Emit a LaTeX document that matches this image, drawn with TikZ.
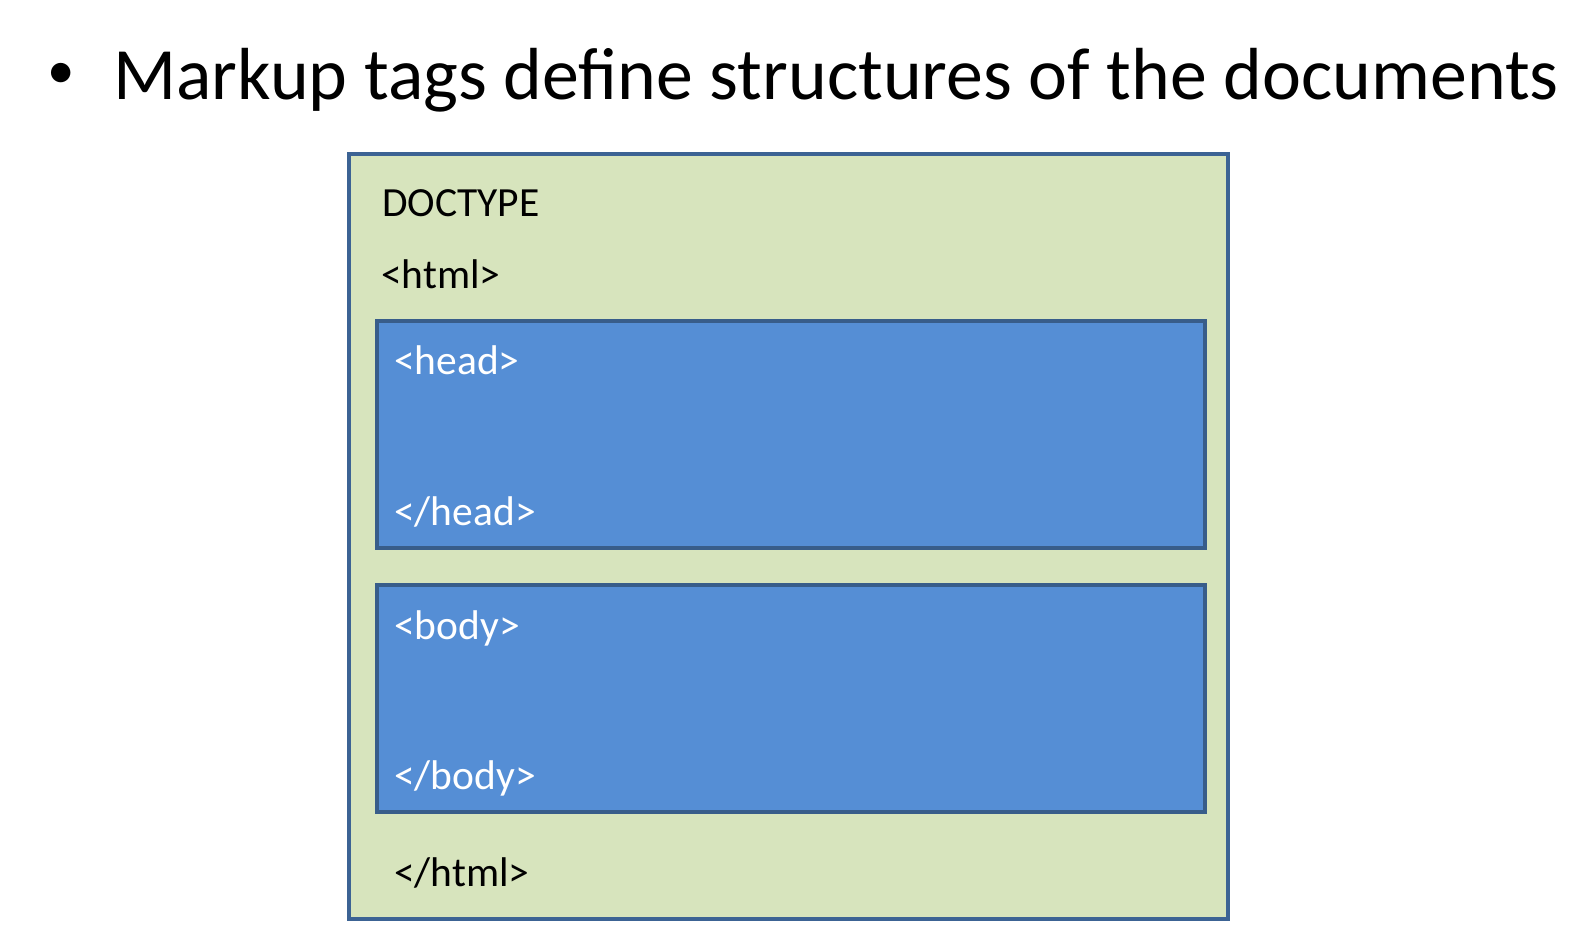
\documentclass[tikz,border=0pt]{standalone}
\usepackage{fontspec}
\setmainfont{Carlito}
\definecolor{outerfill}{HTML}{D7E4BD}
\definecolor{outerdraw}{HTML}{3C6394}
\definecolor{innerfill}{HTML}{558ED5}
\definecolor{innerdraw}{HTML}{385D8A}
\tikzset{
  outerbox/.style={fill=outerfill, draw=outerdraw, line width=3.5pt},
  innerbox/.style={fill=innerfill, draw=innerdraw, line width=4pt},
  lbl/.style={anchor=base west, inner sep=0pt, font=\fontsize{41.5}{41.5}\selectfont},
  wlbl/.style={lbl, text=white},
  title/.style={anchor=base west, inner sep=0pt, font=\fontsize{73.8}{73.8}\selectfont}
}
\begin{document}
\begin{tikzpicture}[x=1pt,y=-1pt]
\useasboundingbox (0,0) rectangle (1577,944);
\node[anchor=base, inner sep=0pt, font=\fontsize{55}{55}\selectfont] (bullet) at (61,89) {•};
\node[title] (heading) at (113,100) {Markup tags define structures of the documents};
\draw[outerbox] (349,154) rectangle (1228,919);
\draw[innerbox] (377,321) rectangle (1205,548);
\draw[innerbox] (377,585) rectangle (1205,812);
\node[lbl] (doctype) at (382,217) {DOCTYPE};
\node[lbl] (htmlopen) at (381,288) {<html>};
\node[wlbl] (headopen) at (394,374) {<head>};
\node[wlbl] (headclose) at (394,525) {</head>};
\node[wlbl] (bodyopen) at (394,639) {<body>};
\node[wlbl] (bodyclose) at (394,789) {</body>};
\node[lbl] (htmlclose) at (394,886) {</html>};
\end{tikzpicture}
\end{document}
